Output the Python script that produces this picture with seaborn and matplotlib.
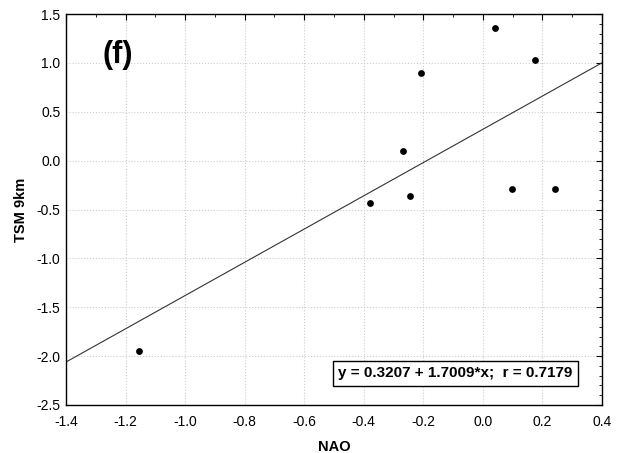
import numpy as np
import pandas as pd
import seaborn as sns
import matplotlib.pyplot as plt
from matplotlib.ticker import MultipleLocator

# values
nao = [-1.154, -0.380, -0.267, -0.245, -0.208, 0.041, 0.098, 0.174, 0.243]
tsm = [-1.95, -0.43, 0.10, -0.365, 0.895, 1.36, -0.295, 1.03, -0.295]
intercept = 0.3207
slope = 1.7009
r_value = 0.7179
panel_label = '(f)'

df = pd.DataFrame({'NAO': nao, 'TSM 9km': tsm})

sns.set_style('white')
plt.rcParams['font.family'] = ['Liberation Sans', 'DejaVu Sans']
plt.rcParams['text.color'] = 'black'
plt.rcParams['axes.labelcolor'] = 'black'

fig = plt.figure(figsize=(6.21, 4.53), dpi=100)
ax = fig.add_axes([0.1063, 0.106, 0.8631, 0.863])

sns.scatterplot(data=df, x='NAO', y='TSM 9km', ax=ax, color='black',
                s=24, edgecolor='black', linewidth=0, zorder=3)

ax.set_xlim(-1.4, 0.4)
ax.set_ylim(-2.5, 1.5)

# fitted line across the whole axis
ax.axline((0, intercept), slope=slope, color='#333333', lw=0.8, zorder=2)

ax.xaxis.set_major_locator(MultipleLocator(0.2))
ax.xaxis.set_minor_locator(MultipleLocator(0.1))
ax.yaxis.set_major_locator(MultipleLocator(0.5))
ax.yaxis.set_minor_locator(MultipleLocator(0.1))
ax.xaxis.set_major_formatter(plt.FuncFormatter(lambda v, p: f'{v:.1f}'))
ax.yaxis.set_major_formatter(plt.FuncFormatter(lambda v, p: f'{v:.1f}'))

ax.tick_params(which='both', direction='in', top=True, right=True,
               colors='black', labelsize=10)
ax.tick_params(which='major', length=4, width=0.8)
ax.tick_params(which='minor', length=2.5, width=0.6)
ax.tick_params(axis='x', pad=7)
ax.tick_params(axis='y', pad=4)

ax.grid(True, which='major', color='#cccccc', linestyle=':', linewidth=0.8)
for sp in ax.spines.values():
    sp.set_color('black')
    sp.set_linewidth(1.0)

ax.set_xlabel('NAO', fontsize=10.5, fontweight='bold', labelpad=8)
ax.set_ylabel('TSM 9km', fontsize=10.5, fontweight='bold', labelpad=6)

ax.text(0.097, 0.895, panel_label, transform=ax.transAxes, fontsize=22,
        fontweight='bold', ha='center', va='center')

ax.text(0.7267, 0.0806,
        f'y = {intercept:.4f} + {slope:.4f}*x;  r = {r_value:.4f}',
        transform=ax.transAxes, fontsize=11, fontweight='bold',
        ha='center', va='center', zorder=5,
        bbox=dict(boxstyle='square,pad=0.35', fc='white', ec='black', lw=1.0))

fig.savefig('out.png', dpi=100)
